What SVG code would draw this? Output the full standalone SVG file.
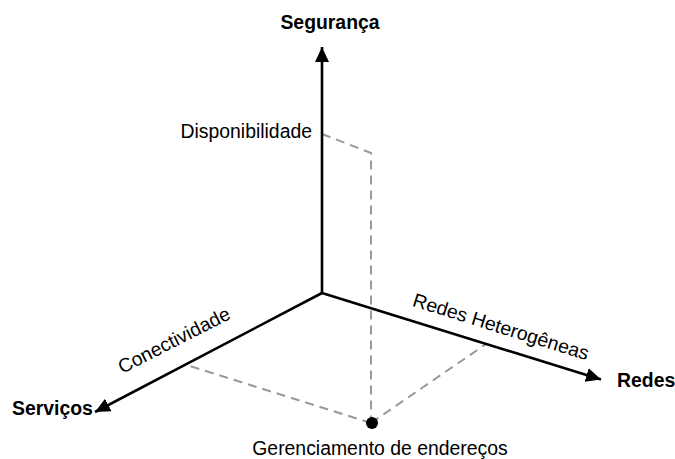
<svg xmlns="http://www.w3.org/2000/svg" width="675" height="459" viewBox="0 0 675 459">
<style>
.axis{stroke:#000;stroke-width:2.6;fill:none}
.dash{stroke:#999;stroke-width:2;fill:none;stroke-dasharray:9 6}
.lbl{font-family:"Liberation Sans",Arial,sans-serif;font-size:19.4px;fill:#000}
.bold{font-weight:bold}
</style>
<defs>
<marker id="ah" markerUnits="userSpaceOnUse" markerWidth="16" markerHeight="16" viewBox="0 -8 16 16" refX="15" refY="0" orient="auto">
<path d="M0,-7 L15,0 L0,7 Z" fill="#000"/>
</marker>
</defs>
<g id="connectors">
<path class="dash" d="M322,134 L371,153 L371,423"/>
<path class="dash" d="M371,423 L486,344"/>
<path class="dash" d="M371,423 L185,364.5"/>
<line class="axis" x1="322" y1="293" x2="322" y2="47" marker-end="url(#ah)"/>
<line class="axis" x1="322" y1="293" x2="601" y2="379.5" marker-end="url(#ah)"/>
<line class="axis" x1="322" y1="293" x2="95" y2="412" marker-end="url(#ah)"/>
</g>
<g id="seguranca"><text class="lbl bold" x="330" y="29" text-anchor="middle">Segurança</text></g>
<g id="redes"><text class="lbl bold" x="617" y="387">Redes</text></g>
<g id="servicos"><text class="lbl bold" x="12" y="415">Serviços</text></g>
<g id="disponibilidade"><text class="lbl" x="312" y="138" text-anchor="end">Disponibilidade</text></g>
<g id="conectividade"><text class="lbl" transform="translate(177,346) rotate(-27)" text-anchor="middle">Conectividade</text></g>
<g id="redes-heterogeneas"><text class="lbl" transform="translate(499,333) rotate(17.3)" text-anchor="middle">Redes Heterogêneas</text></g>
<g id="gerenciamento">
<circle cx="372" cy="423" r="6" fill="#000"/>
<text class="lbl" x="380" y="455" text-anchor="middle">Gerenciamento de endereços</text>
</g>
</svg>
